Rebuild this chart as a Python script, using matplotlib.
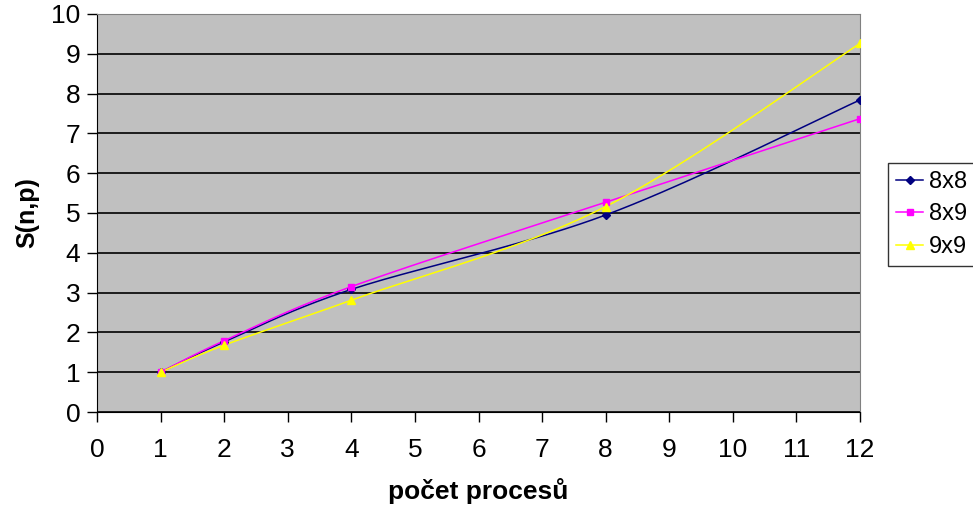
import numpy as np
import matplotlib.pyplot as plt

plt.rcParams['font.family'] = ['Liberation Sans', 'DejaVu Sans']

procesy = [1, 2, 4, 8, 12]
s_8x8 = [1.0, 1.76, 3.08, 4.95, 7.84]
s_8x9 = [1.0, 1.79, 3.15, 5.27, 7.37]
s_9x9 = [1.0, 1.68, 2.81, 5.16, 9.26]


def smooth(x, y, n=40):
    # vyhlazení jako v Excelu (Bezier mezi body, tangenty Catmull-Rom)
    x = np.asarray(x, float)
    y = np.asarray(y, float)
    px, py = [], []
    for i in range(len(x) - 1):
        i0 = max(i - 1, 0)
        i3 = min(i + 2, len(x) - 1)
        c1x = x[i] + (x[i + 1] - x[i0]) / 6
        c1y = y[i] + (y[i + 1] - y[i0]) / 6
        c2x = x[i + 1] - (x[i3] - x[i]) / 6
        c2y = y[i + 1] - (y[i3] - y[i]) / 6
        t = np.linspace(0, 1, n)
        bx = (1-t)**3*x[i] + 3*(1-t)**2*t*c1x + 3*(1-t)*t**2*c2x + t**3*x[i+1]
        by = (1-t)**3*y[i] + 3*(1-t)**2*t*c1y + 3*(1-t)*t**2*c2y + t**3*y[i+1]
        px.extend(bx)
        py.extend(by)
    return px, py


fig = plt.figure(figsize=(9.73, 5.11), dpi=100)
ax = fig.add_axes([97/973, 1 - 412/511, (860-97)/973, (412-14)/511])
ax.set_facecolor('#c0c0c0')

serie = [
    ('8x8', s_8x8, '#000080', 'D', 4),
    ('8x9', s_8x9, '#ff00ff', 's', 5),
    ('9x9', s_9x9, '#ffff00', '^', 6),
]
for name, vals, col, mk, ms in serie:
    sx, sy = smooth(procesy, vals)
    ax.plot(sx, sy, color=col, lw=1.1, zorder=3)
    ax.plot(procesy, vals, linestyle='none', marker=mk, ms=ms, color=col,
            markeredgecolor=col, zorder=4)
    ax.plot([], [], color=col, lw=1.1, marker=mk, ms=ms, label=name)

ax.set_xlim(0, 12)
ax.set_ylim(0, 10)
ax.set_xticks(range(0, 13))
ax.set_yticks(range(0, 11))
ax.yaxis.grid(True, color='black', lw=1.2)
ax.set_axisbelow(True)
ax.tick_params(labelsize=19, length=7, width=1, direction='out')
ax.tick_params(axis='x', pad=12)
ax.tick_params(axis='y', pad=5)
for s in ['top', 'right']:
    ax.spines[s].set_color('#808080')
for s in ['left', 'bottom']:
    ax.spines[s].set_color('black')

ax.set_xlabel('počet procesů', fontsize=19, fontweight='bold', labelpad=11)
ax.set_ylabel('S(n,p)', fontsize=18, fontweight='bold')
ax.yaxis.set_label_coords(-58/763, 0.5)

leg = fig.legend(loc='upper left', bbox_to_anchor=(888/973, 1 - 163/511),
                 fontsize=17, frameon=True, fancybox=False, edgecolor='black',
                 handlelength=1.15, borderpad=0.34, labelspacing=0.44,
                 handletextpad=0.25, borderaxespad=0)
leg.get_frame().set_linewidth(1)

fig.savefig('out.png', dpi=100)
